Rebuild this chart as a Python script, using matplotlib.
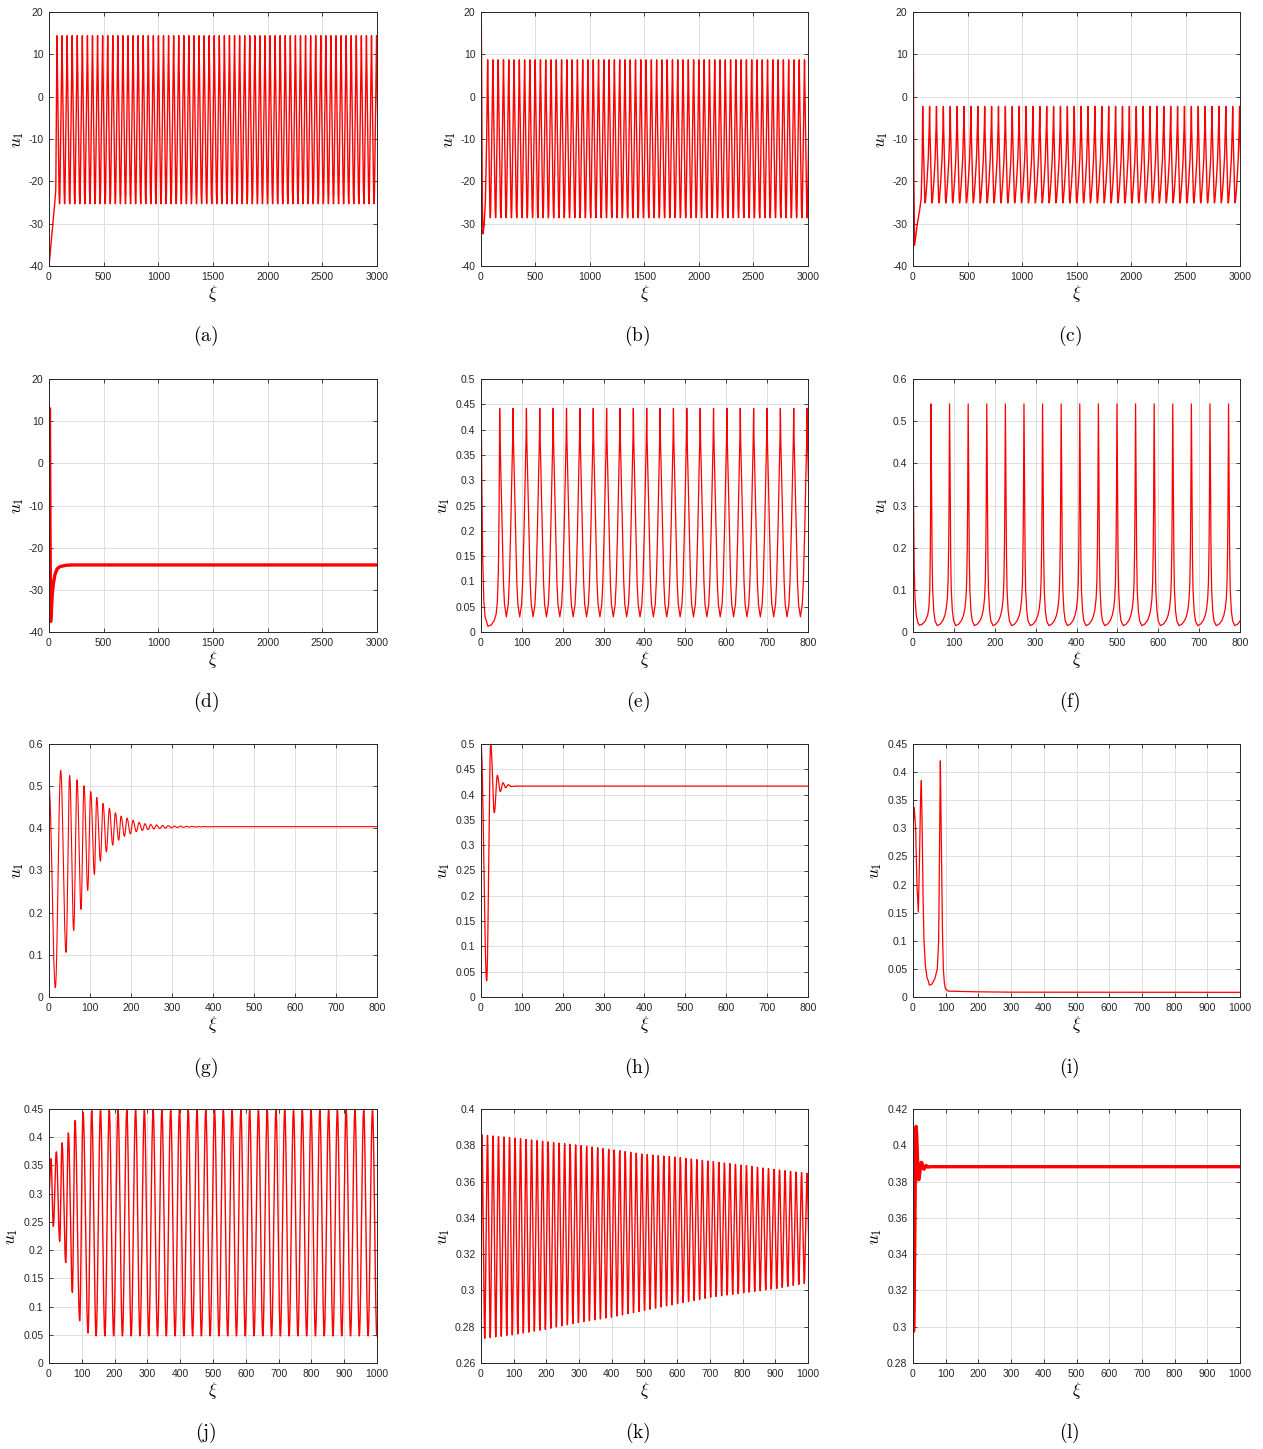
import numpy as np
import matplotlib
matplotlib.use("Agg")
import matplotlib.pyplot as plt
from matplotlib.ticker import FuncFormatter

plt.rcParams["font.family"] = ["Liberation Sans", "DejaVu Sans"]
plt.rcParams["mathtext.fontset"] = "cm"
plt.rcParams["axes.unicode_minus"] = False

# ---------------------------------------------------------------- data
# (a) periodic wave, large amplitude
a_onset_x = [0, 36, 52, 62]
a_onset_u = [-40, -30, -25.3, -22]
a_first_peak, a_period, a_ncyc = 73, 46.4, 64
a_peak, a_trough = 14.4, -25.3
a_phase = [0, 0.04, 0.42, 0.47, 0.5, 0.53, 0.58, 0.96, 1]
a_level = [1, 0.9, 0.06, 0.01, 0, 0.01, 0.06, 0.9, 1]

# (b)
b_onset_x = [0, 3, 6, 12, 18, 28, 40, 52]
b_onset_u = [-1, 16.6, 5, -25, -32.4, -30.5, -25, -10]
b_first_peak, b_period, b_ncyc = 61, 48.45, 62
b_peak, b_trough = 8.7, -28.6
b_phase = [0, 0.04, 0.42, 0.47, 0.5, 0.53, 0.58, 0.96, 1]
b_level = [1, 0.9, 0.06, 0.01, 0, 0.01, 0.06, 0.9, 1]

# (c)
c_onset_x = [0, 3, 8, 15, 25, 40, 60, 75, 84]
c_onset_u = [-1, 14.0, -20, -35.1, -33, -30, -27, -24, -15]
c_first_peak, c_period, c_ncyc = 89, 63.2, 47
c_peak, c_trough = -2.3, -25.1
c_phase = [0, 0.05, 0.3, 0.35, 0.42, 0.6, 0.8, 0.95, 1]
c_level = [1, 0.75, 0.05, 0, 0.03, 0.2, 0.45, 0.8, 1]

# (d) decay to a steady state
d_x = [0, 4, 9, 15, 22, 30, 40, 55, 75, 100, 150, 200, 3000]
d_u = [-1, 13.0, -15, -37.5, -35, -31, -28.5, -26.3, -25.0, -24.5, -24.2, -24.1, -24.1]

# (e)
e_onset_x = [0, 2, 4, 7, 10, 17, 25, 32, 37, 40, 42.5, 44, 45]
e_onset_u = [0.5, 0.3, 0.15, 0.06, 0.03, 0.0112, 0.014, 0.022, 0.035, 0.06, 0.12, 0.22, 0.33]
e_first_peak, e_period, e_ncyc = 45.7, 32.7, 24
e_peak, e_trough = 0.442, 0.030
e_phase = [0, 0.03, 0.1, 0.18, 0.28, 0.36, 0.5, 0.64, 0.72, 0.82, 0.9, 0.97, 1]
e_level = [1, 0.85, 0.655, 0.41, 0.17, 0.06, 0, 0.06, 0.17, 0.41, 0.655, 0.85, 1]

# (f)
f_onset_x = [0, 1.5, 3, 5, 8, 12, 15.5, 22, 30, 36, 39, 41, 42.5, 43.3]
f_onset_u = [0.5, 0.3, 0.15, 0.08, 0.04, 0.022, 0.016, 0.018, 0.026, 0.04, 0.06, 0.1, 0.2, 0.35]
f_first_peak, f_period, f_ncyc = 44, 45.5, 17
f_peak, f_trough = 0.541, 0.015
f_phase = [0, 0.03, 0.06, 0.09, 0.15, 0.22, 0.34, 0.5, 0.65, 0.75, 0.82, 0.88, 0.92, 0.95, 0.97, 0.985, 1]
f_level = [1, 0.637, 0.314, 0.162, 0.0665, 0.0209, 0, 0.0076, 0.0247, 0.0475, 0.076,
           0.1236, 0.1996, 0.3517, 0.5418, 0.77, 1]

# (g) damped oscillation: successive extrema
g_ext_x = [0, 15.5, 28.5, 41.5, 50.4, 60.2, 68.3, 78.1, 85.4, 94.4, 101.7, 110.7, 116.4,
           125.3, 131.8, 140, 147.3, 155.4, 161.9, 170, 175.8, 183.9, 190.4, 198.5, 205,
           213, 219.7, 227.8, 234, 241.7, 248, 256, 262, 270, 277, 284, 291, 299, 306,
           313, 320, 328, 335, 342, 349, 357, 364, 371, 378, 386]
g_ext_u = [0.5, 0.022, 0.537, 0.106, 0.525, 0.158, 0.515, 0.208, 0.501, 0.253, 0.487,
           0.291, 0.473, 0.322, 0.459, 0.344, 0.447, 0.360, 0.437, 0.372, 0.429, 0.381,
           0.424, 0.387, 0.419, 0.392, 0.414, 0.395, 0.411, 0.397, 0.409, 0.3985, 0.408,
           0.3995, 0.4068, 0.4005, 0.4061, 0.4013, 0.4056, 0.4019, 0.4052, 0.4024, 0.4049,
           0.4028, 0.4047, 0.4031, 0.4045, 0.4034, 0.4043, 0.4037]
g_rest_x = [400, 800]
g_rest_u = [0.404, 0.404]

# (h)
h_ext_x = [0, 13.9, 23.7, 32.6, 40, 47.3, 53.8, 60.4, 66.9, 73.4]
h_ext_u = [0.5, 0.032, 0.5, 0.364, 0.438, 0.406, 0.4235, 0.4136, 0.4195, 0.416]
h_rest_x = [85, 800]
h_rest_u = [0.4168, 0.4168]

# (i) two bursts then decay
i_x = [0, 4, 8, 12, 16.3, 20, 23, 25.5, 28, 31, 33.6, 38, 43, 47, 50, 58, 67, 74.4,
       78.5, 81.5, 83.6, 85.5, 87.7, 90, 92.8, 96, 99, 108, 150, 200, 300, 1000]
i_u = [0.30, 0.337, 0.3, 0.2, 0.151, 0.25, 0.35, 0.385, 0.3, 0.17, 0.1, 0.055, 0.034,
       0.0285, 0.021, 0.023, 0.033, 0.05, 0.1, 0.288, 0.42, 0.33, 0.228, 0.12, 0.05,
       0.025, 0.015, 0.0105, 0.0098, 0.0092, 0.0086, 0.0083]

# (j) growing oscillation that locks onto a cycle
j_ext_x = [0, 6.1, 13.2, 22.4, 32.6, 39.7, 50.9, 59, 71.2, 79.3, 93.6, 103.8, 119, 130.2]
j_ext_u = [0.30, 0.362, 0.242, 0.374, 0.2156, 0.39, 0.178, 0.4075, 0.125, 0.4294, 0.075,
           0.444, 0.053, 0.447]
j_period, j_ncyc = 26.75, 33
j_peak, j_trough = 0.448, 0.048

# (k) slowly contracting oscillation; envelopes read at tick positions
k_first_peak, k_period, k_ncyc = 3, 16.85, 60
k_env_x = [0, 100, 200, 300, 400, 500, 600, 700, 800, 900, 1000]
k_env_peak = [0.3858, 0.3840, 0.3820, 0.3800, 0.3776, 0.3750, 0.3734, 0.3712, 0.3690,
              0.3666, 0.3645]
k_env_trough = [0.2734, 0.2756, 0.2787, 0.2824, 0.2853, 0.2890, 0.2927, 0.2962, 0.2986,
                0.3010, 0.3043]
k_onset_x = [0, 1]
k_onset_u = [0.30, 0.33]
k_phase = [0, 0.06, 0.44, 0.5, 0.56, 0.94, 1]
k_level = [1, 0.95, 0.05, 0, 0.05, 0.95, 1]

# (l)
l_ext_x = [0, 2, 9.2, 17.3, 25.5, 33.6, 39.8, 46]
l_ext_u = [0.2975, 0.2975, 0.4104, 0.381, 0.3906, 0.3869, 0.3888, 0.3880]
l_rest_x = [55, 1000]
l_rest_u = [0.3882, 0.3882]

# axis settings per panel
xlims = [3000, 3000, 3000, 3000, 800, 800, 800, 800, 1000, 1000, 1000, 1000]
xsteps = [500, 500, 500, 500, 100, 100, 100, 100, 100, 100, 100, 100]
ylims = [(-40, 20), (-40, 20), (-40, 20), (-40, 20), (0, 0.5), (0, 0.6), (0, 0.6),
         (0, 0.5), (0, 0.45), (0, 0.45), (0.26, 0.4), (0.28, 0.42)]
ysteps = [10, 10, 10, 10, 0.05, 0.1, 0.1, 0.05, 0.05, 0.05, 0.02, 0.02]
letters = list("abcdefghijkl")


# ---------------------------------------------------------------- helpers
def periodic(first_peak, period, ncyc, phase, level, peak, trough):
    """Repeat one cycle shape (peak to peak) ncyc times."""
    phase = np.asarray(phase, float)
    level = np.asarray(level, float)
    peak = np.broadcast_to(np.asarray(peak, float), (ncyc + 1,))
    trough = np.broadcast_to(np.asarray(trough, float), (ncyc + 1,))
    imin = int(np.argmin(level))
    xs, us = [], []
    for k in range(ncyc):
        x0 = first_peak + k * period
        top = np.where(np.arange(len(phase)) <= imin, peak[k], peak[k + 1])
        xs.append(x0 + phase[:-1] * period)
        us.append(trough[k] + level[:-1] * (top[:-1] - trough[k]))
    xs.append([first_peak + ncyc * period])
    us.append([peak[ncyc]])
    return np.concatenate(xs), np.concatenate(us)


def through_extrema(ex, eu, n=24):
    """Smooth half-cosine arcs joining successive turning points."""
    xs, us = [], []
    t = np.linspace(0, 1, n, endpoint=False)
    for x0, x1, u0, u1 in zip(ex[:-1], ex[1:], eu[:-1], eu[1:]):
        s = (1 - np.cos(np.pi * t)) / 2
        xs.append(x0 + (x1 - x0) * t)
        us.append(u0 + (u1 - u0) * s)
    xs.append([ex[-1]])
    us.append([eu[-1]])
    return np.concatenate(xs), np.concatenate(us)


def join(*parts):
    return (np.concatenate([np.asarray(p[0], float) for p in parts]),
            np.concatenate([np.asarray(p[1], float) for p in parts]))


# ---------------------------------------------------------------- curves
curves = []
curves.append(join((a_onset_x, a_onset_u),
                   periodic(a_first_peak, a_period, a_ncyc, a_phase, a_level, a_peak, a_trough)))
curves.append(join((b_onset_x, b_onset_u),
                   periodic(b_first_peak, b_period, b_ncyc, b_phase, b_level, b_peak, b_trough)))
curves.append(join((c_onset_x, c_onset_u),
                   periodic(c_first_peak, c_period, c_ncyc, c_phase, c_level, c_peak, c_trough)))
curves.append((np.array(d_x, float), np.array(d_u, float)))
curves.append(join((e_onset_x, e_onset_u),
                   periodic(e_first_peak, e_period, e_ncyc, e_phase, e_level, e_peak, e_trough)))
curves.append(join((f_onset_x, f_onset_u),
                   periodic(f_first_peak, f_period, f_ncyc, f_phase, f_level, f_peak, f_trough)))
curves.append(join(through_extrema(g_ext_x, g_ext_u), (g_rest_x, g_rest_u)))
curves.append(join(through_extrema(h_ext_x, h_ext_u), (h_rest_x, h_rest_u)))
curves.append((np.array(i_x, float), np.array(i_u, float)))

j_px = [j_ext_x[-1] + (m + 1) * j_period for m in range(j_ncyc)]
j_all_x = list(j_ext_x)
j_all_u = list(j_ext_u)
for px in j_px:
    j_all_x += [px - j_period / 2, px]
    j_all_u += [j_trough, j_peak]
jx, ju = through_extrema(j_all_x, j_all_u)
curves.append((jx, ju))

k_peak_x = k_first_peak + k_period * np.arange(k_ncyc + 1)
k_peaks = np.interp(k_peak_x, k_env_x, k_env_peak)
k_troughs = np.interp(k_peak_x + k_period / 2, k_env_x, k_env_trough)
curves.append(join((k_onset_x, k_onset_u),
                   periodic(k_first_peak, k_period, k_ncyc, k_phase, k_level, k_peaks, k_troughs)))
curves.append(join(through_extrema(l_ext_x, l_ext_u), (l_rest_x, l_rest_u)))

widths = [1.0, 1.0, 1.0, 2.4, 0.9, 0.9, 0.8, 0.9, 0.9, 1.0, 1.0, 2.4]

# ---------------------------------------------------------------- figure
W, H = 1263, 1449
fig = plt.figure(figsize=(W / 100, H / 100), dpi=100)
col_l = [49, 481, 913]
col_r = [377, 808, 1240]
row_t = [12, 379, 744, 1109]
row_b = [266, 632, 997, 1363]
lab_y = [336, 702, 1068, 1433]

fmt = FuncFormatter(lambda v, p: "%g" % round(v, 6))

for idx in range(12):
    r, c = divmod(idx, 3)
    ax = fig.add_axes([col_l[c] / W, 1 - row_b[r] / H,
                       (col_r[c] - col_l[c]) / W, (row_b[r] - row_t[r]) / H])
    x, u = curves[idx]
    ax.plot(x, u, color="#ff0000", lw=widths[idx], solid_joinstyle="round")
    ax.set_xlim(0, xlims[idx])
    ax.set_ylim(*ylims[idx])
    ax.set_xticks(np.arange(0, xlims[idx] + 1e-9, xsteps[idx]))
    y0, y1 = ylims[idx]
    ax.set_yticks(np.arange(y0, y1 + ysteps[idx] / 2, ysteps[idx]))
    ax.xaxis.set_major_formatter(fmt)
    ax.yaxis.set_major_formatter(fmt)
    ax.grid(True, color="#dfdfdf", lw=0.7)
    ax.set_axisbelow(True)
    ax.tick_params(direction="in", length=3, width=0.6, labelsize=7.5,
                   colors="#262626", top=True, right=True, pad=4)
    for s in ax.spines.values():
        s.set_color("#262626")
        s.set_linewidth(0.7)
    ax.set_xlabel(r"$\xi$", fontsize=12.5, labelpad=1)
    ax.set_ylabel(r"$u_1$", fontsize=12.5, labelpad=2)
    cx = (col_l[c] + col_r[c]) / 2 - 7
    fig.text(cx / W, 1 - lab_y[r] / H, r"$\mathrm{(%s)}$" % letters[idx],
             ha="center", va="center", fontsize=14)

fig.savefig("out.png", dpi=100, facecolor="white")
